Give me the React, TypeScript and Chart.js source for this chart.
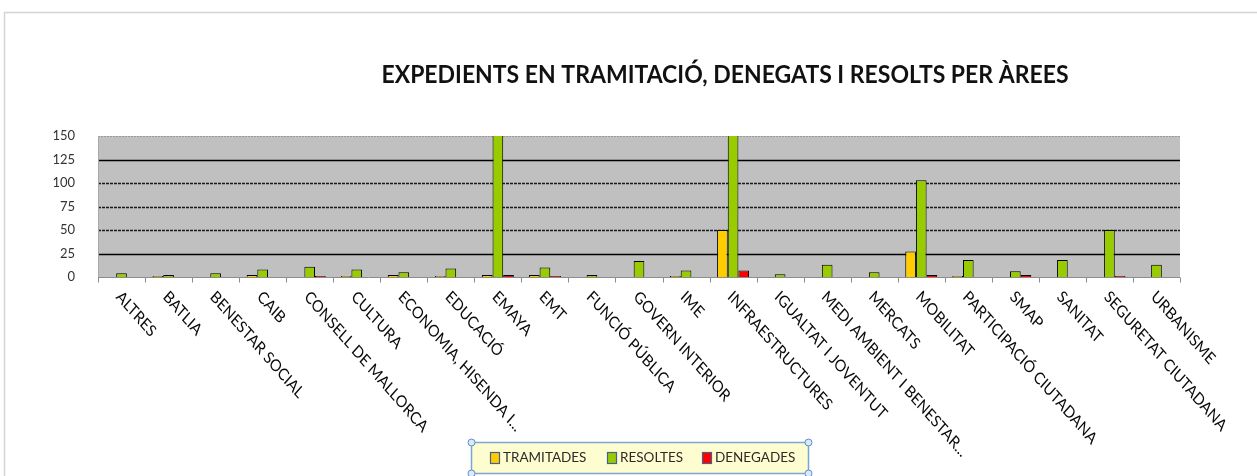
import React, { useEffect, useRef } from "react";
import { Chart, registerables } from "chart.js";

Chart.register(...registerables);

const chartTitle = "EXPEDIENTS EN TRAMITACIÓ, DENEGATS I RESOLTS PER ÀREES";

const categories = [
  "ALTRES",
  "BATLIA",
  "BENESTAR SOCIAL",
  "CAIB",
  "CONSELL DE MALLORCA",
  "CULTURA",
  "ECONOMIA, HISENDA I...",
  "EDUCACIÓ",
  "EMAYA",
  "EMT",
  "FUNCIÓ PÚBLICA",
  "GOVERN INTERIOR",
  "IME",
  "INFRAESTRUCTURES",
  "IGUALTAT I JOVENTUT",
  "MEDI AMBIENT I BENESTAR...",
  "MERCATS",
  "MOBILITAT",
  "PARTICIPACIÓ CIUTADANA",
  "SMAP",
  "SANITAT",
  "SEGURETAT CIUTADANA",
  "URBANISME",
];

const tramitades = [0, 1, 0, 2, 0, 1, 2, 1, 2, 2, 0, 0, 1, 50, 0, 0, 0, 27, 1, 0, 0, 0, 0];
const resoltes = [4, 2, 4, 8, 11, 8, 5, 9, 180, 10, 2, 17, 7, 170, 3, 13, 5, 103, 18, 6, 18, 50, 13];
const denegades = [0, 0, 0, 0, 1, 0, 0, 0, 2, 1, 0, 0, 0, 7, 0, 0, 0, 2, 0, 2, 0, 1, 0];

const seriesNames = ["TRAMITADES", "RESOLTES", "DENEGADES"];
const seriesColors = ["#ffcc00", "#99cc00", "#ff0000"];

const yTicks = [0, 25, 50, 75, 100, 125, 150];
const solidGrid = [25, 125];

const W = 1257;
const H = 476;

const decorPlugin = {
  id: "decor",
  beforeDraw(chart: any) {
    const { ctx, chartArea } = chart;
    const y = chart.scales.y;
    ctx.save();
    ctx.fillStyle = "#ffffff";
    ctx.fillRect(0, 0, W, H);
    // outer frame
    ctx.strokeStyle = "#d4d4d4";
    ctx.lineWidth = 1.5;
    ctx.beginPath();
    ctx.moveTo(W, 12.5);
    ctx.lineTo(4.5, 12.5);
    ctx.lineTo(4.5, H);
    ctx.stroke();
    // plot background
    ctx.fillStyle = "#c0c0c0";
    ctx.fillRect(chartArea.left, chartArea.top, chartArea.right - chartArea.left, chartArea.bottom - chartArea.top);
    // grid lines
    yTicks.forEach((v) => {
      if (v === 0) return;
      const py = Math.round(y.getPixelForValue(v)) + 0.5;
      ctx.beginPath();
      if (v === 150) {
        ctx.strokeStyle = "#9a9a9a";
        ctx.lineWidth = 1;
        ctx.setLineDash([2, 1]);
      } else if (solidGrid.includes(v)) {
        ctx.strokeStyle = "#000000";
        ctx.lineWidth = 1.3;
        ctx.setLineDash([]);
      } else {
        ctx.strokeStyle = "#1a1a1a";
        ctx.lineWidth = 1.3;
        ctx.setLineDash([3, 1]);
      }
      ctx.moveTo(chartArea.left, py);
      ctx.lineTo(chartArea.right, py);
      ctx.stroke();
    });
    ctx.setLineDash([]);
    // left axis line
    ctx.strokeStyle = "#a8a8a8";
    ctx.lineWidth = 1;
    ctx.beginPath();
    ctx.moveTo(chartArea.left + 0.5, chartArea.top);
    ctx.lineTo(chartArea.left + 0.5, chartArea.bottom);
    ctx.stroke();
    ctx.restore();
  },
  afterDatasetsDraw(chart: any) {
    const { ctx, chartArea } = chart;
    const base = Math.round(chart.scales.y.getPixelForValue(0)) + 0.5;
    ctx.save();
    ctx.strokeStyle = "#8c8c8c";
    ctx.lineWidth = 1;
    ctx.beginPath();
    ctx.moveTo(chartArea.left, base);
    ctx.lineTo(chartArea.right, base);
    const step = (chartArea.right - chartArea.left) / categories.length;
    for (let i = 0; i <= categories.length; i++) {
      const tx = Math.round(chartArea.left + i * step) + 0.5;
      ctx.moveTo(tx, base);
      ctx.lineTo(tx, base + 5);
    }
    ctx.stroke();
    ctx.restore();
  },
  afterDraw(chart: any) {
    const { ctx } = chart;
    const x = chart.scales.x;
    ctx.save();
    // category labels rotated clockwise
    ctx.fillStyle = "#0a0a0a";
    ctx.font = "14.5px Lato";
    ctx.textAlign = "left";
    ctx.textBaseline = "middle";
    categories.forEach((c, i) => {
      const cx = x.getPixelForTick(i);
      ctx.save();
      ctx.translate(cx - 3, 294);
      ctx.scale(1, 1.14);
      ctx.rotate(Math.PI / 4);
      ctx.fillText(c, 0, 0);
      ctx.restore();
    });
    // title
    ctx.fillStyle = "#111111";
    ctx.font = "bold 23px Lato";
    ctx.textAlign = "center";
    ctx.textBaseline = "middle";
    ctx.save();
    ctx.translate(725, 75);
    ctx.scale(1, 1.08);
    ctx.fillText(chartTitle, 0, 0);
    ctx.restore();
    // legend
    const lx = 471.5, ly = 442.5, lw = 337, lh = 31;
    ctx.fillStyle = "#fdfdcf";
    ctx.fillRect(lx, ly, lw, lh);
    ctx.strokeStyle = "#7aa6d6";
    ctx.lineWidth = 1.5;
    ctx.strokeRect(lx, ly, lw, lh);
    const items = [
      { mx: 490, tx: 503 },
      { mx: 607, tx: 620 },
      { mx: 702, tx: 715 },
    ];
    ctx.font = "13.5px Lato";
    ctx.textAlign = "left";
    ctx.textBaseline = "middle";
    items.forEach((it, i) => {
      ctx.fillStyle = seriesColors[i];
      ctx.fillRect(it.mx, 452, 10, 12);
      ctx.strokeStyle = "#45608f";
      ctx.lineWidth = 1.2;
      ctx.strokeRect(it.mx + 0.5, 452.5, 9, 11);
      ctx.fillStyle = "#2b2b2b";
      ctx.fillText(seriesNames[i], it.tx, 458);
    });
    // selection handles
    const handles = [
      [lx, ly],
      [lx + lw, ly],
      [lx, ly + lh],
      [lx + lw, ly + lh],
    ];
    handles.forEach(([hx, hy]) => {
      ctx.beginPath();
      ctx.arc(hx, hy, 3.5, 0, Math.PI * 2);
      ctx.fillStyle = "#dce9f7";
      ctx.fill();
      ctx.strokeStyle = "#5b8fd0";
      ctx.lineWidth = 1;
      ctx.stroke();
    });
    ctx.restore();
  },
};

export default function App() {
  const ref = useRef<HTMLCanvasElement | null>(null);
  useEffect(() => {
    document.body.style.margin = "0";
    document.body.style.overflow = "hidden";
    const canvas = ref.current;
    if (!canvas) return;
    const chart = new Chart(canvas, {
      type: "bar",
      data: {
        labels: categories,
        datasets: [
          { label: seriesNames[0], data: tramitades, backgroundColor: seriesColors[0], borderColor: "#000", borderWidth: 1 },
          { label: seriesNames[1], data: resoltes, backgroundColor: seriesColors[1], borderColor: "#000", borderWidth: 1 },
          { label: seriesNames[2], data: denegades, backgroundColor: seriesColors[2], borderColor: "#000", borderWidth: 1 },
        ],
      },
      options: {
        responsive: false,
        animation: false,
        events: [],
        layout: { padding: { left: 28, right: 77, top: 136, bottom: 0 } },
        datasets: { bar: { categoryPercentage: 0.68, barPercentage: 1.0 } },
        plugins: {
          legend: { display: false },
          title: { display: false },
          tooltip: { enabled: false },
        },
        scales: {
          x: {
            ticks: { display: false },
            grid: { display: false },
            border: { display: false },
            afterFit: (s: any) => {
              s.height = 199;
            },
          },
          y: {
            min: 0,
            max: 150,
            ticks: {
              stepSize: 25,
              color: "#333333",
              font: { family: "Lato", size: 13 },
              padding: 15,
            },
            grid: { display: false },
            border: { display: false },
            afterFit: (s: any) => {
              s.width = 70;
            },
          },
        },
      },
      plugins: [decorPlugin],
    });
    return () => chart.destroy();
  }, []);
  return <canvas ref={ref} width={W} height={H} style={{ display: "block" }} />;
}
